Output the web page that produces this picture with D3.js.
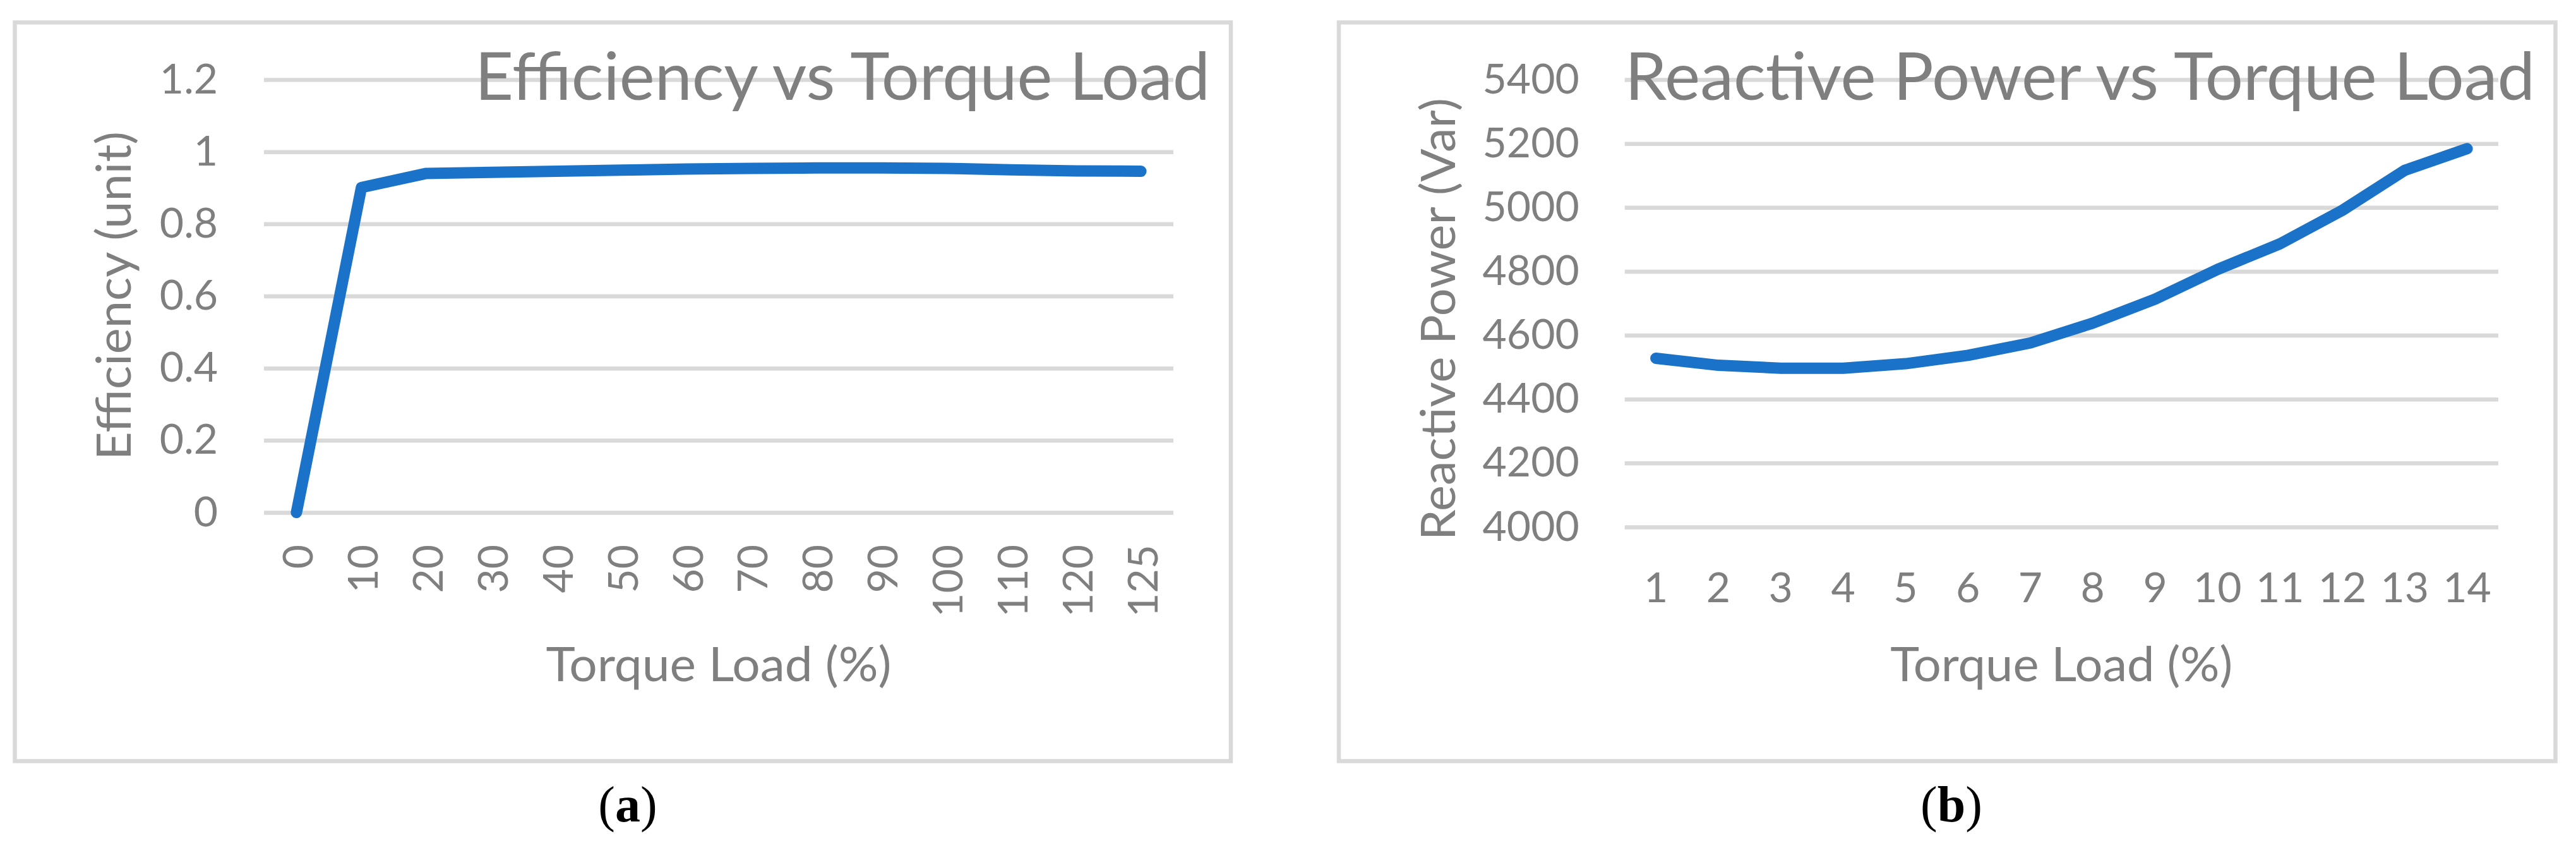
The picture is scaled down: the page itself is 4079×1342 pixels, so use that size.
<!DOCTYPE html>
<html><head><meta charset="utf-8">
<script src="https://cdn.jsdelivr.net/npm/d3@7"></script>
<style>html,body{margin:0;padding:0;background:#fff;} svg{display:block;}</style>
</head><body>
<svg id="chart" width="4079" height="1342"></svg>
<script>
// ---- data ----
const effCategories = ["0","10","20","30","40","50","60","70","80","90","100","110","120","125"];
const effValues = [0, 0.901, 0.940, 0.943, 0.946, 0.949, 0.952, 0.954, 0.955, 0.955, 0.954, 0.950, 0.947, 0.946];
const effTicks = [0, 0.2, 0.4, 0.6, 0.8, 1, 1.2];
const effTickLabels = ["0", "0.2", "0.4", "0.6", "0.8", "1", "1.2"];

const rpCategories = ["1","2","3","4","5","6","7","8","9","10","11","12","13","14"];
const rpValues = [4528, 4506, 4497, 4497, 4511, 4537, 4576, 4638, 4713, 4806, 4886, 4991, 5116, 5184];
const rpTicks = [4000, 4200, 4400, 4600, 4800, 5000, 5200, 5400];
const rpTickLabels = ["4000", "4200", "4400", "4600", "4800", "5000", "5200", "5400"];

const chartTitles = ["Efficiency vs Torque Load", "Reactive Power vs Torque Load"];
const yAxisTitles = ["Efficiency (unit)", "Reactive Power (Var)"];
const xAxisTitles = ["Torque Load (%)", "Torque Load (%)"];
const captionLetters = ["a", "b"];

// ---- layout / style ----
const GRID = "#d9d9d9", TEXT = "#7f7f7f", LINE = "#1a73c8";
const FONT = "Lato, 'Open Sans', sans-serif";
const panels = [
  { cats: effCategories, vals: effValues, ticks: effTicks, tickLabels: effTickLabels,
    domain: [0, 1.2], title: chartTitles[0], yTitle: yAxisTitles[0], xTitle: xAxisTitles[0], cap: captionLetters[0],
    border: [23.5, 35.5, 1949, 1204.5], plot: [418, 1858, 126, 811], tickPad: 73,
    yT: [207, 468, 520], tT: [752, 1164], rotX: true, xLabY: 862, xT: [1078, 547], capX: 994 },
  { cats: rpCategories, vals: rpValues, ticks: rpTicks, tickLabels: rpTickLabels,
    domain: [4000, 5400], title: chartTitles[1], yTitle: yAxisTitles[1], xTitle: xAxisTitles[1], cap: captionLetters[1],
    border: [2120, 35.5, 4046.5, 1204.5], plot: [2572.7, 3956, 126, 834], tickPad: 72,
    yT: [2304, 505, 700], tT: [2573, 1441], rotX: false, xLabY: 953, xT: [1078, 542], capX: 3090 }
];

const svg = d3.select("#chart");
svg.append("rect").attr("width", 4079).attr("height", 1342).attr("fill", "#fff");

panels.forEach(p => {
  const [L, R, T, B] = p.plot;
  const g = svg.append("g");
  // border
  g.append("rect")
    .attr("x", p.border[0]).attr("y", p.border[1])
    .attr("width", p.border[2] - p.border[0]).attr("height", p.border[3] - p.border[1])
    .attr("fill", "none").attr("stroke", GRID).attr("stroke-width", 6.5);

  const x = d3.scaleBand().domain(p.cats).range([L, R]).padding(0);
  const y = d3.scaleLinear().domain(p.domain).range([B, T]);

  // gridlines + y tick labels via axis
  const ax = g.append("g").attr("transform", `translate(${L},0)`)
    .call(d3.axisLeft(y).tickValues(p.ticks).tickSizeInner(-(R - L)).tickSizeOuter(0)
      .tickPadding(p.tickPad).tickFormat((d, i) => p.tickLabels[i]));
  ax.select(".domain").remove();
  ax.selectAll(".tick line").attr("stroke", GRID).attr("stroke-width", 6.5);
  ax.selectAll(".tick text").attr("fill", TEXT).attr("font-family", FONT)
    .attr("font-size", 66).attr("dy", 21);

  // x tick labels
  const xl = g.append("g");
  p.cats.forEach(c => {
    const cx = x(c) + x.bandwidth() / 2;
    const t = xl.append("text").text(c).attr("fill", TEXT).attr("font-family", FONT).attr("font-size", 66);
    if (p.rotX) {
      t.attr("text-anchor", "end").attr("transform", `translate(${cx + 26},${p.xLabY}) rotate(-90)`);
    } else {
      t.attr("text-anchor", "middle").attr("x", cx).attr("y", p.xLabY);
    }
  });

  // series line
  const line = d3.line()
    .x((d, i) => x(p.cats[i]) + x.bandwidth() / 2)
    .y(d => y(d));
  g.append("path").datum(p.vals).attr("d", line)
    .attr("fill", "none").attr("stroke", LINE).attr("stroke-width", 18)
    .attr("stroke-linejoin", "round").attr("stroke-linecap", "round");

  // chart title (drawn over gridline)
  g.append("text").text(p.title)
    .attr("x", p.tT[0]).attr("y", 158)
    .attr("textLength", p.tT[1]).attr("lengthAdjust", "spacingAndGlyphs")
    .attr("fill", TEXT).attr("font-family", FONT).attr("font-size", 105);

  // y axis title
  g.append("text").text(p.yTitle)
    .attr("transform", `translate(${p.yT[0]},${p.yT[1]}) rotate(-90)`)
    .attr("text-anchor", "middle")
    .attr("textLength", p.yT[2]).attr("lengthAdjust", "spacingAndGlyphs")
    .attr("fill", TEXT).attr("font-family", FONT).attr("font-size", 75);

  // x axis title
  g.append("text").text(p.xTitle)
    .attr("x", (L + R) / 2).attr("y", p.xT[0]).attr("text-anchor", "middle")
    .attr("textLength", p.xT[1]).attr("lengthAdjust", "spacingAndGlyphs")
    .attr("fill", TEXT).attr("font-family", FONT).attr("font-size", 75);

  // caption
  const cap = svg.append("text").attr("x", p.capX).attr("y", 1300).attr("text-anchor", "middle")
    .attr("font-family", "'Liberation Serif', 'Times New Roman', serif").attr("font-size", 80).attr("fill", "#000");
  cap.append("tspan").text("(");
  cap.append("tspan").attr("font-weight", "bold").text(p.cap);
  cap.append("tspan").text(")");
});
</script>
</body></html>
